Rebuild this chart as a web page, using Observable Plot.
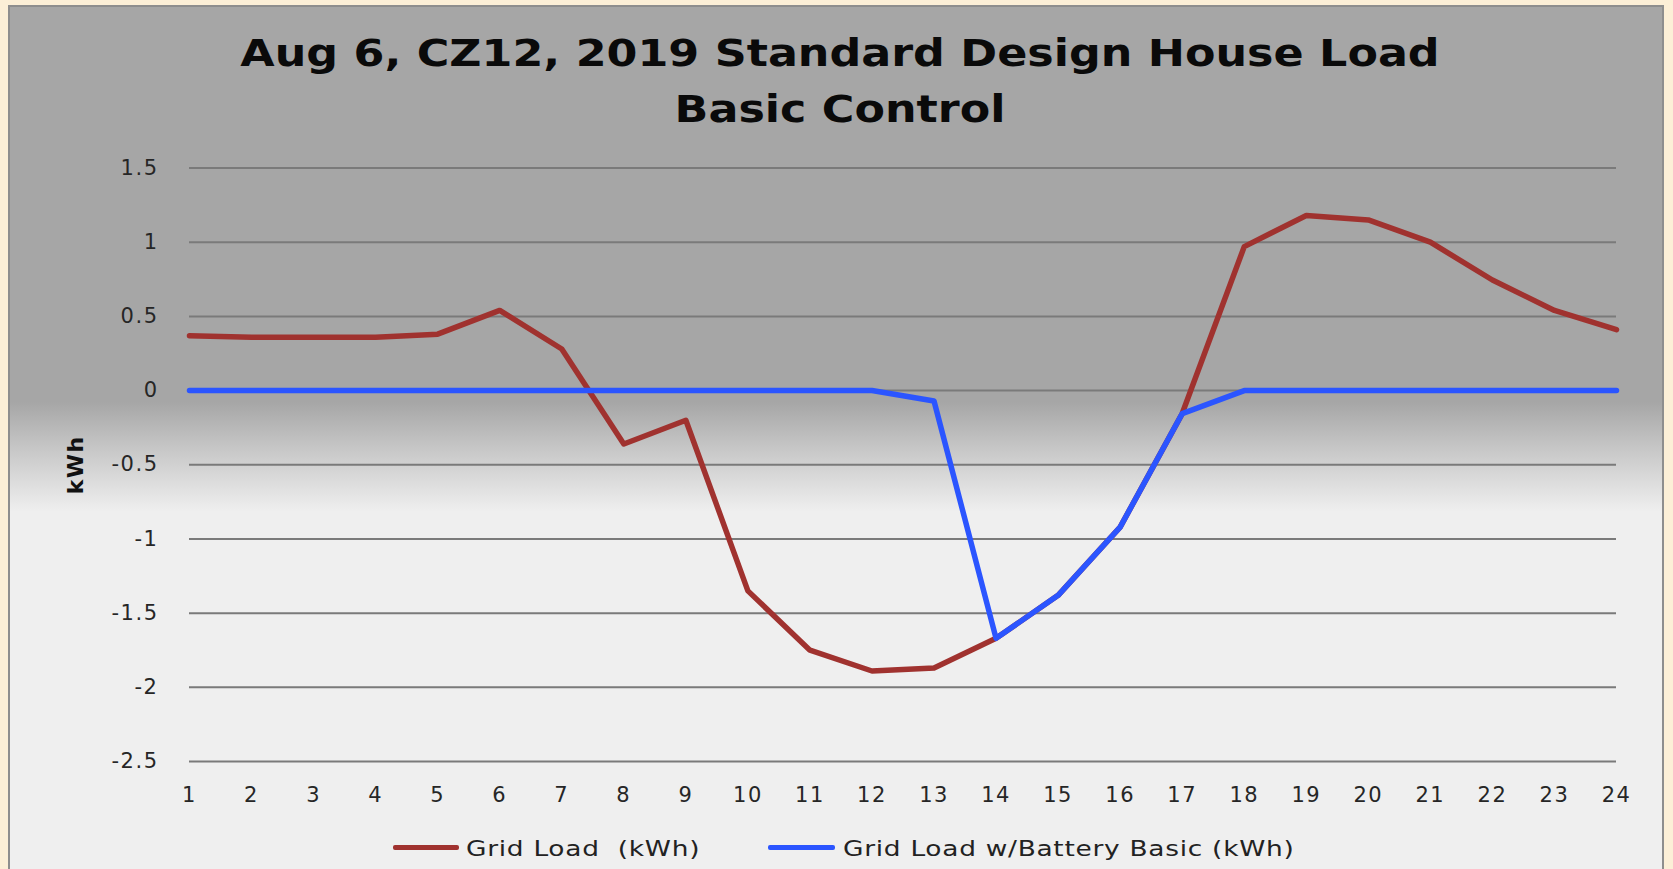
<!DOCTYPE html>
<html><head><meta charset="utf-8">
<script src="https://cdn.jsdelivr.net/npm/d3@7"></script>
<script src="https://cdn.jsdelivr.net/npm/@observablehq/plot@0.6"></script>
<style>
html,body{margin:0;padding:0;width:1673px;height:869px;overflow:hidden;background:#fcefd7;}
#box{position:absolute;left:8px;top:5px;width:1656px;height:900px;border:2px solid #8e8e8e;box-sizing:border-box;
 background:linear-gradient(to bottom,#a6a6a6 0px,#a6a6a6 395px,#c9c9c9 445px,#efefef 505px,#efefef 100%);}
#title{position:absolute;left:0;top:26px;width:1680px;text-align:center;font-family:"DejaVu Sans";font-weight:bold;font-size:37px;line-height:56px;color:#0a0a0a;transform:scaleX(1.2);transform-origin:840px 0;}
#chart{position:absolute;left:0;top:140px;}
.lg{position:absolute;font-family:"DejaVu Sans";font-size:22px;letter-spacing:0.6px;color:#222;white-space:pre;line-height:26px;transform:scaleX(1.2);transform-origin:0 0;}
.sw{position:absolute;height:5px;border-radius:2px;}
</style></head>
<body>
<div id="box"></div>
<div id="title">Aug 6, CZ12, 2019 Standard Design House Load<br>Basic Control</div>
<div id="chart"></div>
<div class="sw" style="left:393px;top:845px;width:66px;background:#a0322f"></div>
<div class="lg" style="left:466px;top:836px">Grid Load  (kWh)</div>
<div class="sw" style="left:768px;top:845px;width:67px;background:#2b55ff"></div>
<div class="lg" style="left:843px;top:836px">Grid Load w/Battery Basic (kWh)</div>
<script>
const hours = [1,2,3,4,5,6,7,8,9,10,11,12,13,14,15,16,17,18,19,20,21,22,23,24];
const gridLoad = [0.37,0.36,0.36,0.36,0.38,0.54,0.28,-0.36,-0.20,-1.35,-1.75,-1.89,-1.87,-1.67,-1.38,-0.92,-0.155,0.97,1.18,1.15,1.0,0.745,0.54,0.41];
const gridLoadBattery = [0,0,0,0,0,0,0,0,0,0,0,0,-0.07,-1.67,-1.38,-0.92,-0.155,0,0,0,0,0,0,0];
const yTicks = [-2.5,-2,-1.5,-1,-0.5,0,0.5,1,1.5];
const seriesNames = ["Grid Load  (kWh)", "Grid Load w/Battery Basic (kWh)"];

const red = hours.map((h,i)=>({hour:h, v:gridLoad[i], s:seriesNames[0]}));
const blue = hours.map((h,i)=>({hour:h, v:gridLoadBattery[i], s:seriesNames[1]}));

const chart = Plot.plot({
  width: 1673,
  height: 690,
  marginLeft: 189,
  marginRight: 57,
  marginTop: 27.5,
  marginBottom: 69,
  style: {background:"transparent", fontFamily:"DejaVu Sans", fontSize:"21px", color:"#262626", letterSpacing:"1.5px"},
  x: {domain:[1,24]},
  y: {domain:[-2.5,1.5]},
  marks: [
    Plot.gridY(yTicks, {stroke:"#7a7a7a", strokeOpacity:1, strokeWidth:2}),
    Plot.axisY(yTicks, {tickSize:0, tickPadding:31, tickFormat:d=>String(d), fontSize:21, label:null}),
    Plot.axisX(hours, {tickSize:0, tickPadding:26, tickFormat:d=>String(d), fontSize:21, label:null}),
    Plot.text(["kWh"], {frameAnchor:"left", textAnchor:"middle", dx:-114, rotate:-90, fontWeight:"bold", fontSize:22, fill:"#111"}),
    Plot.line(red, {x:"hour", y:"v", stroke:"#a0322f", strokeWidth:5.5}),
    Plot.line(blue, {x:"hour", y:"v", stroke:"#2b55ff", strokeWidth:5.5})
  ]
});
document.getElementById("chart").appendChild(chart);
</script>
</body></html>
